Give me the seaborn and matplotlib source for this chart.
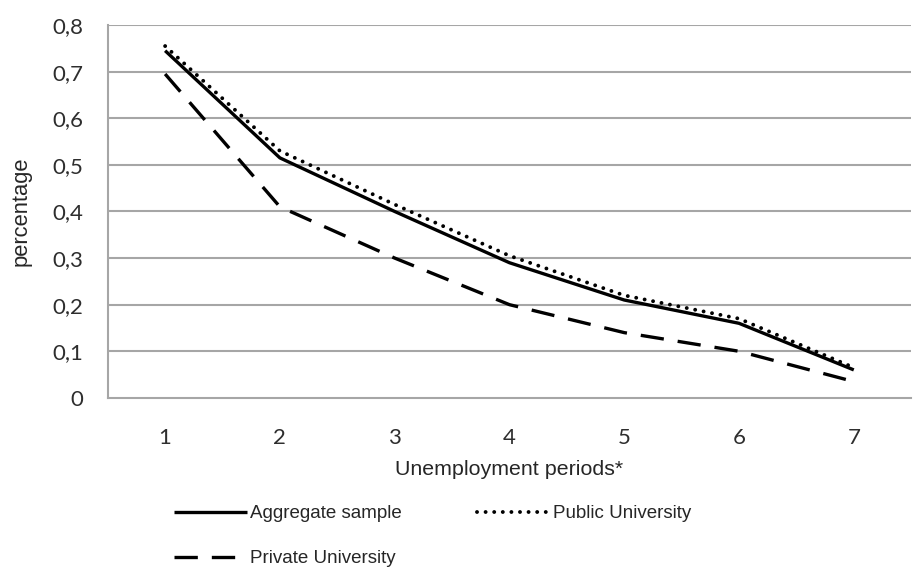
import pandas as pd
import seaborn as sns
import matplotlib.pyplot as plt
from matplotlib.ticker import FixedLocator, FuncFormatter

periods = [1, 2, 3, 4, 5, 6, 7]
aggregate = [0.745, 0.515, 0.40, 0.29, 0.21, 0.16, 0.06]
public_uni = [0.755, 0.53, 0.415, 0.305, 0.22, 0.17, 0.065]
private_uni = [0.695, 0.41, 0.30, 0.20, 0.14, 0.10, 0.035]
y_ticks = [0, 0.1, 0.2, 0.3, 0.4, 0.5, 0.6, 0.7, 0.8]

# name, values, linestyle, linewidth, capstyle
series = [
    ("Aggregate sample", aggregate, "-", 2.4, "butt"),
    ("Public University", public_uni, (0, (0.01, 2.2)), 2.8, "round"),
    ("Private University", private_uni, (0, (7, 4.2)), 2.4, "butt"),
]

sns.set_style("white")
plt.rcParams['font.family'] = ['Liberation Sans', 'DejaVu Sans']

fig = plt.figure(figsize=(9.13, 5.7), dpi=100)
ax = fig.add_axes([0.118, 0.302, 0.88, 0.654])

grid_col = "#a6a6a6"
for y in y_ticks[1:]:
    ax.axhline(y, color=grid_col, lw=1.5, zorder=0)

for name, vals, ls, lw, cap in series:
    df = pd.DataFrame({"period": periods, "value": vals})
    sns.lineplot(data=df, x="period", y="value", ax=ax, color="black",
                 lw=lw, linestyle=ls, label=name, solid_capstyle="butt",
                 dash_capstyle=cap)

ax.set_xlim(0.5, 7.5)
ax.set_ylim(0, 0.8)
ax.set_xticks(periods)
ax.xaxis.set_minor_locator(FixedLocator([p + 0.5 for p in [0] + periods]))
ax.set_yticks(y_ticks)
ax.yaxis.set_major_formatter(FuncFormatter(lambda v, _: "0" if v == 0 else f"{v:.1f}".replace(".", ",")))

for side in ["top", "right"]:
    ax.spines[side].set_visible(False)
for side in ["left", "bottom"]:
    ax.spines[side].set_color(grid_col)
    ax.spines[side].set_linewidth(1.5)

ax.tick_params(axis="x", which="major", length=0, pad=22)
ax.tick_params(axis="x", which="minor", length=6, width=1.5, color=grid_col, direction="out")
ax.tick_params(axis="y", length=5.5, width=1.5, color=grid_col, direction="out", pad=12)
for lab in ax.get_xticklabels() + ax.get_yticklabels():
    lab.set_family(["Lato", "DejaVu Sans"])
    lab.set_fontsize(16)
    lab.set_color("#2e2e2e")

ax.set_xlabel("Unemployment periods*", fontsize=15.4, labelpad=8)
ax.set_ylabel("percentage", fontsize=15.8, labelpad=15)

handles, labels = ax.get_legend_handles_labels()
order = [0, 2, 1]
ax.legend([handles[i] for i in order], [labels[i] for i in order],
          loc="upper left", bbox_to_anchor=(174 / 913, 1 - 505 / 570),
          bbox_transform=fig.transFigure, ncol=2, frameon=False,
          fontsize=13.5, handlelength=3.9, handletextpad=0.15,
          columnspacing=4.0, labelspacing=1.5, borderpad=0, borderaxespad=0)

fig.savefig("out.png", dpi=100)
